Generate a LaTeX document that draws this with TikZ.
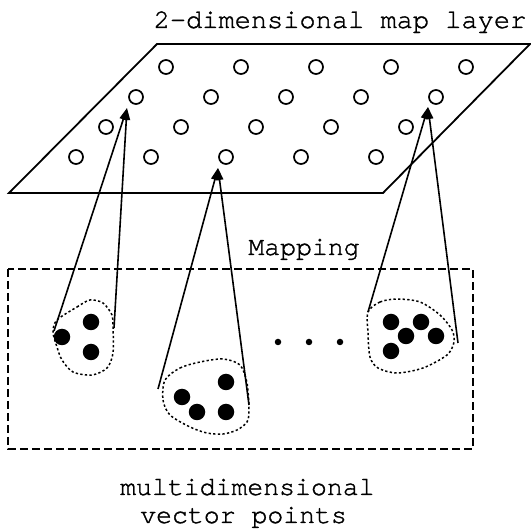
\documentclass[tikz,border=0pt]{standalone}
\usepackage{fontspec}
\newfontfamily\curfont[FakeBold=1.3]{TeX Gyre Cursor}
\usetikzlibrary{arrows.meta}
\begin{document}
\begin{tikzpicture}[x=1pt,y=-1pt,
  hole/.style={circle,draw,line width=1.7pt,minimum size=14pt,inner sep=0pt},
  member/.style={circle,fill,minimum size=16.5pt,inner sep=0pt},
  smalldot/.style={circle,fill,minimum size=6.5pt,inner sep=0pt},
  conn/.style={line width=1.6pt,-{Triangle[length=12pt,width=7.5pt]}},
  cluster/.style={line width=1.5pt,dash pattern=on 2.3pt off 2.3pt},
  layer/.style={line width=1.8pt},
  space/.style={line width=1.6pt,dash pattern=on 8pt off 4pt},
  lbl/.style={font=\curfont\fontsize{26.5}{30}\selectfont,inner sep=0pt}]
\useasboundingbox (0,0) rectangle (531,529);

% map layer
\draw[layer] (157,44) -- (530,44) -- (383,193) -- (9,193) -- cycle;
\foreach \r/\yy/\xs in {1/67/166, 2/97/136, 3/127/106, 4/157/76}
  \foreach \c in {1,...,5}
    \node[hole] (c\r\c) at ({\xs+75*(\c-1)},\yy) {};

\node[lbl,font=\curfont\fontsize{27}{30}\selectfont,anchor=base] (title) at (340,28) {2-dimensional map layer};

% vector space
\draw[space] (8,269) rectangle (473,449);
\node[lbl,anchor=base] (mapping) at (304,255) {Mapping};

% clusters
\draw[cluster] plot[smooth cycle] coordinates {(57,320) (77,307) (90,300) (103,303) (112,315) (113,327) (113,353) (107,368) (92,375) (73,372) (62,360) (57,347) (53,332)};
\draw[cluster] plot[smooth cycle] coordinates {(165,380) (180,368) (200,362) (223,359) (240,365) (247,383) (249,410) (247,422) (237,430) (223,434) (207,433) (190,427) (170,415) (163,400)};
\draw[cluster] plot[smooth cycle] coordinates {(368,312) (380,302) (397,299) (420,302) (440,315) (452,330) (454,342) (447,355) (423,368) (397,373) (378,368) (370,357) (368,333)};

\node[member] (p11) at (62,337) {};
\node[member] (p12) at (91,322) {};
\node[member] (p13) at (91,352) {};
\node[member] (p21) at (182,397) {};
\node[member] (p22) at (197,412) {};
\node[member] (p23) at (226,382) {};
\node[member] (p24) at (226,412) {};
\node[member] (p31) at (391,322) {};
\node[member] (p32) at (421,322) {};
\node[member] (p33) at (406,336) {};
\node[member] (p34) at (436,336) {};
\node[member] (p35) at (391,351) {};

\node[smalldot] (d1) at (278,342) {};
\node[smalldot] (d2) at (309,342) {};
\node[smalldot] (d3) at (340,342) {};

% mapping arrows
\coordinate (t1) at (127,108);
\coordinate (t2) at (218,168);
\coordinate (t3) at (428,107);
\coordinate (a1) at (54,331);
\coordinate (b1) at (114,328);
\coordinate (a2) at (158,389);
\coordinate (b2) at (249,405);
\coordinate (a3) at (368,312);
\coordinate (b3) at (458,343);
\draw[conn] (a1) -- (t1);
\draw[conn] (b1) -- (t1);
\draw[conn] (a2) -- (t2);
\draw[conn] (b2) -- (t2);
\draw[conn] (a3) -- (t3);
\draw[conn] (b3) -- (t3);

\node[lbl,anchor=base west] (multi1) at (120,495) {multidimensional};
\node[lbl,anchor=base west] (multi2) at (140,523) {vector points};
\end{tikzpicture}
\end{document}
